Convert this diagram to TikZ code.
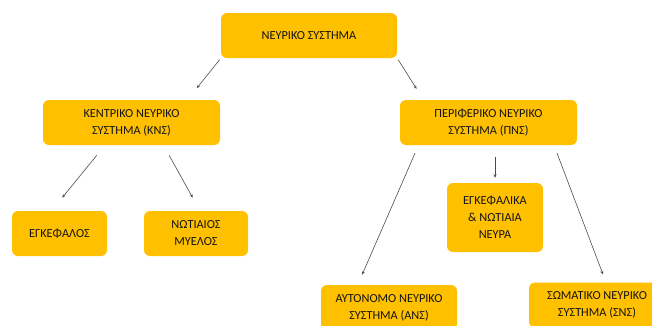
\documentclass[tikz,border=0pt]{standalone}
\usepackage{fontspec}
\setmainfont{Carlito}
\usetikzlibrary{arrows.meta}
\definecolor{boxgold}{HTML}{FFC000}

\begin{document}
\begin{tikzpicture}[x=1pt,y=-1pt]
\tikzstyle{every node}+=[inner sep=0pt]
\tikzstyle{box}=[fill=boxgold, rounded corners=6pt, align=center, text=black!92, font=\fontsize{12.3}{17}\selectfont]
\tikzstyle{arr}=[draw=black!70, line width=0.6pt, -{Stealth[length=3.5pt,width=3pt]}]
\useasboundingbox (0,0) rectangle (652,325);
\node[box, minimum width=176pt, minimum height=45pt] (nsys) at (309,35.5) {ΝΕΥΡΙΚΟ ΣΥΣΤΗΜΑ};
\node[box, minimum width=177pt, minimum height=45pt] (kns) at (131.5,122.5) {ΚΕΝΤΡΙΚΟ ΝΕΥΡΙΚΟ\\ΣΥΣΤΗΜΑ (ΚΝΣ)};
\node[box, minimum width=177pt, minimum height=45pt] (pns) at (488.5,122.5) {ΠΕΡΙΦΕΡΙΚΟ ΝΕΥΡΙΚΟ\\ΣΥΣΤΗΜΑ (ΠΝΣ)};
\node[box, minimum width=95pt, minimum height=45pt] (egk) at (59.5,233.5) {ΕΓΚΕΦΑΛΟΣ};
\node[box, minimum width=104pt, minimum height=45pt] (nwt) at (196,233.5) {ΝΩΤΙΑΙΟΣ\\ΜΥΕΛΟΣ};
\node[box, minimum width=96pt, minimum height=69pt] (neyra) at (495,217.5) {ΕΓΚΕΦΑΛΙΚΑ\\\& ΝΩΤΙΑΙΑ\\ΝΕΥΡΑ};
\node[box, minimum width=136pt, minimum height=45pt] (ans) at (389,307.5) {ΑΥΤΟΝΟΜΟ ΝΕΥΡΙΚΟ\\ΣΥΣΤΗΜΑ (ΑΝΣ)};
\node[box, minimum width=136pt, minimum height=45pt] (sns) at (597,305) {ΣΩΜΑΤΙΚΟ ΝΕΥΡΙΚΟ\\ΣΥΣΤΗΜΑ (ΣΝΣ)};
\draw[arr, shorten <=2pt, shorten >=15pt] (nsys.south west) -- ([xshift=56pt]kns.north);
\draw[arr, shorten <=2pt, shorten >=13pt] (nsys.south east) -- ([xshift=-65pt]pns.north);
\draw[arr, shorten <=13pt, shorten >=17pt] ([xshift=-26.5pt]kns.south) -- ([xshift=-8pt]egk.north);
\draw[arr, shorten <=11.5pt, shorten >=15pt] ([xshift=32pt]kns.south) -- ([xshift=4pt]nwt.north);
\draw[arr, shorten <=12pt, shorten >=5pt] ([xshift=6.5pt]pns.south) -- (neyra.north);
\draw[arr, shorten <=8.7pt, shorten >=11pt] ([xshift=-70pt]pns.south) -- ([xshift=-31.3pt]ans.north);
\draw[arr, shorten <=8.5pt, shorten >=8.5pt] ([xshift=65.5pt]pns.south) -- ([xshift=9pt]sns.north);
\end{tikzpicture}
\end{document}
